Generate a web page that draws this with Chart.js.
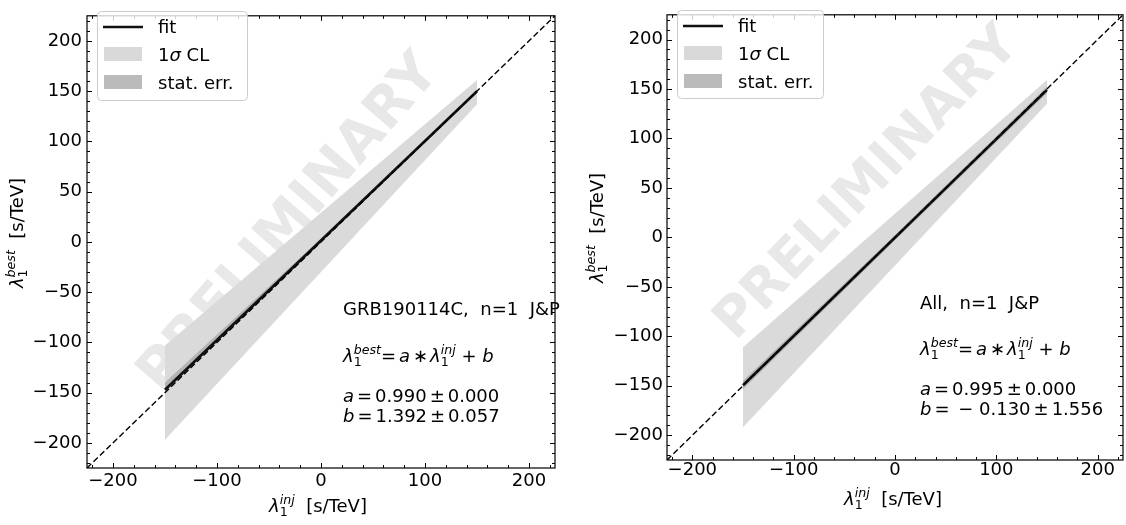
<!DOCTYPE html>
<html>
<head>
<meta charset="utf-8">
<script src="https://cdn.jsdelivr.net/npm/chart.js@4.4.1/dist/chart.umd.min.js"></script>
<style>
  body { margin: 0; background: #fff; }
  #wrap { position: relative; width: 1126px; height: 525px; }
  .pane { position: absolute; top: 0; width: 563px; height: 525px; }
</style>
</head>
<body>
<div id="wrap">
  <div class="pane" style="left:0"><canvas id="left"></canvas></div>
  <div class="pane" style="left:563px"><canvas id="right"></canvas></div>
</div>
<script>
// ---- data ----
const diagX = [-225, 225];            // y = x reference line
const bandX = [-150, 150];            // injected range of the bands / fit
const statX = [-150, 0, 150];

// left: GRB190114C
const clUpperL = [-103, 161];
const clLowerL = [-197, 137];
const statUpperL = [-140, 3.5, 151.5];
const statLowerL = [-149, -0.5, 148.5];
const fitL = [-147.1, 149.9];

// right: All
const clUpperR = [-111, 159];
const clLowerR = [-192, 135];
const statUpperR = [-145, 2.5, 152.5];
const statLowerR = [-153.5, -3, 146];
const fitR = [-149.4, 149.1];

const axisMin = -225, axisMax = 225;
const xMajorStep = 100, xMinorStep = 20;
const yMajorStep = 50, yMinorStep = 10;

const FONT = '"DejaVu Sans"';
Chart.defaults.font.family = FONT;
Chart.defaults.color = '#000';

function pts(xs, ys) {
    return xs.map((x, i) => ({ x: x, y: ys[i] }));
}
function fmt(v) {
    return v < 0 ? '\u2212' + (-v) : String(v);
}

// draw a run of "math" text pieces, returns width
function rich(ctx, x, y, runs, size, draw) {
    let cx = x, keepX = null, keepEnd = 0;
    for (const r of runs) {
        const fs = size * (r.s || 1);
        ctx.font = (r.i ? 'italic ' : '') + fs + 'px ' + FONT;
        if (keepX !== null) cx = keepX;
        if (draw) ctx.fillText(r.t, cx, y + (r.dy || 0) * size);
        const end = cx + ctx.measureText(r.t).width + (r.pad || 0);
        if (r.keep) {
            keepX = cx; keepEnd = end;
        } else {
            cx = keepX !== null ? Math.max(end, keepEnd) : end;
            keepX = null;
        }
    }
    return cx - x;
}

const lamBest = [{ t: 'λ', i: 1 }, { t: '1', s: 0.7, dy: 0.22, keep: 1 }, { t: 'best', i: 1, s: 0.7, dy: -0.42 }];
const lamInj = [{ t: 'λ', i: 1 }, { t: '1', s: 0.7, dy: 0.22, keep: 1 }, { t: 'inj', i: 1, s: 0.7, dy: -0.42 }];

const panelPlugin = {
    id: 'panel',
    beforeDatasetsDraw(chart, args, o) {
        const ctx = chart.ctx;
        ctx.save();
        ctx.beginPath();
        const a = chart.chartArea;
        ctx.rect(a.left, a.top, a.right - a.left, a.bottom - a.top);
        ctx.clip();
        ctx.translate(o.mark.x, o.mark.y);
        ctx.rotate(-o.mark.angle * Math.PI / 180);
        ctx.font = 'bold ' + o.mark.size + 'px ' + FONT;
        ctx.fillStyle = '#e8e8e8';
        ctx.textAlign = 'center';
        ctx.textBaseline = 'middle';
        ctx.fillText('PRELIMINARY', 0, 0);
        ctx.restore();
    },
    afterDraw(chart, args, o) {
        const ctx = chart.ctx;
        const a = chart.chartArea;
        const xs = chart.scales.x, ys = chart.scales.y;
        ctx.save();
        // spines
        ctx.strokeStyle = '#000';
        ctx.lineWidth = 1.2;
        ctx.strokeRect(a.left, a.top, a.right - a.left, a.bottom - a.top);
        // inward ticks on all sides
        ctx.lineWidth = 1;
        ctx.beginPath();
        xs.ticks.forEach(t => {
            const px = Math.round(xs.getPixelForValue(t.value)) + 0.5;
            const len = t.value % xMajorStep === 0 ? 5 : 3;
            ctx.moveTo(px, a.bottom); ctx.lineTo(px, a.bottom - len);
            ctx.moveTo(px, a.top); ctx.lineTo(px, a.top + len);
        });
        ys.ticks.forEach(t => {
            const py = Math.round(ys.getPixelForValue(t.value)) + 0.5;
            const len = t.value % yMajorStep === 0 ? 5 : 3;
            ctx.moveTo(a.left, py); ctx.lineTo(a.left + len, py);
            ctx.moveTo(a.right, py); ctx.lineTo(a.right - len, py);
        });
        ctx.stroke();

        // legend
        const L = o.legend;
        ctx.fillStyle = 'rgba(255,255,255,0.8)';
        ctx.strokeStyle = '#cccccc';
        ctx.lineWidth = 1;
        ctx.beginPath();
        ctx.roundRect(L.x + 0.5, L.y + 0.5, L.w, L.h, 4);
        ctx.fill();
        ctx.stroke();
        ctx.strokeStyle = '#111';
        ctx.lineWidth = 2.6;
        ctx.beginPath();
        ctx.moveTo(L.x + 6, L.y + 16); ctx.lineTo(L.x + 46, L.y + 16);
        ctx.stroke();
        ctx.fillStyle = '#d9d9d9';
        ctx.fillRect(L.x + 7, L.y + 36, 38, 14);
        ctx.fillStyle = '#bbbbbb';
        ctx.fillRect(L.x + 7, L.y + 64, 38, 14);
        ctx.fillStyle = '#000';
        ctx.textBaseline = 'alphabetic';
        ctx.textAlign = 'left';
        rich(ctx, L.x + 61, L.y + 22, [{ t: 'fit' }], 18, true);
        rich(ctx, L.x + 61, L.y + 50, [{ t: '1' }, { t: 'σ', i: 1 }, { t: ' CL' }], 18, true);
        rich(ctx, L.x + 61, L.y + 78, [{ t: 'stat. err.' }], 18, true);

        // annotation
        const T = o.note;
        rich(ctx, T.x, T.y[0], [{ t: T.title }], 18, true);
        rich(ctx, T.x, T.y[1], lamBest.concat([{ t: '=', pad: 3 }, { t: 'a', i: 1, pad: 3 }, { t: '∗', pad: 2 }], lamInj,
            [{ t: ' + ' }, { t: 'b', i: 1 }]), 18, true);
        rich(ctx, T.x, T.y[2], [{ t: 'a', i: 1, pad: 3 }, { t: '=', pad: 3 }, { t: T.a, pad: 3 }, { t: '±', pad: 3 }, { t: T.aErr }], 18, true);
        rich(ctx, T.x, T.y[3], [{ t: 'b', i: 1, pad: 3 }, { t: '=', pad: 3 }, { t: T.b, pad: 3 }, { t: '±', pad: 3 }, { t: T.bErr }], 18, true);

        // axis titles
        const xt = lamInj.concat([{ t: '  [s/TeV]' }]);
        const wx = rich(ctx, 0, 0, xt, 18, false);
        rich(ctx, o.xTitle.x - wx / 2, o.xTitle.y, xt, 18, true);
        const yt = lamBest.concat([{ t: '  [s/TeV]' }]);
        const wy = rich(ctx, 0, 0, yt, 18, false);
        ctx.translate(o.yTitle.x, o.yTitle.y);
        ctx.rotate(-Math.PI / 2);
        rich(ctx, -wy / 2, 0, yt, 18, true);
        ctx.restore();
    }
};

function makeChart(id, d) {
    const ds = [
        { data: pts(diagX, diagX), borderColor: '#000', borderWidth: 1.4, borderDash: [6, 3], order: 0 },
        { data: pts(bandX, d.fit), borderColor: '#111', borderWidth: 2.6, order: 1 },
        { data: pts(statX, d.statU), borderColor: 'rgba(0,0,0,0)', borderWidth: 0, order: 2 },
        { data: pts(statX, d.statL), borderColor: 'rgba(0,0,0,0)', borderWidth: 0, fill: '-1', backgroundColor: '#b4b4b4', order: 2 },
        { data: pts(bandX, d.clU), borderColor: 'rgba(0,0,0,0)', borderWidth: 0, order: 3 },
        { data: pts(bandX, d.clL), borderColor: 'rgba(0,0,0,0)', borderWidth: 0, fill: '-1', backgroundColor: '#dadada', order: 3 }
    ];
    ds.forEach(s => { s.showLine = true; s.pointRadius = 0; s.tension = 0; });

    return new Chart(document.getElementById(id), {
        type: 'scatter',
        data: { datasets: ds },
        plugins: [panelPlugin],
        options: {
            responsive: true,
            maintainAspectRatio: false,
            animation: false,
            layout: { padding: d.pad },
            plugins: {
                legend: { display: false },
                tooltip: { enabled: false },
                panel: d.panel
            },
            scales: {
                x: {
                    type: 'linear', min: axisMin, max: axisMax,
                    grid: { display: false, drawTicks: false }, border: { display: false },
                    afterBuildTicks: s => {
                        const t = [];
                        for (let v = -220; v <= 220; v += xMinorStep) t.push({ value: v });
                        s.ticks = t;
                    },
                    afterFit: s => { s.height = d.xH; },
                    ticks: {
                        autoSkip: false, maxRotation: 0, padding: d.xPad,
                        font: { size: 18 }, color: '#000',
                        callback: v => v % xMajorStep === 0 ? fmt(v) : ''
                    }
                },
                y: {
                    type: 'linear', min: axisMin, max: axisMax,
                    grid: { display: false, drawTicks: false }, border: { display: false },
                    afterBuildTicks: s => {
                        const t = [];
                        for (let v = -220; v <= 220; v += yMinorStep) t.push({ value: v });
                        s.ticks = t;
                    },
                    afterFit: s => { s.width = d.yW; },
                    ticks: {
                        autoSkip: false, padding: d.yPad,
                        font: { size: 18 }, color: '#000',
                        callback: v => v % yMajorStep === 0 ? fmt(v) : ''
                    }
                }
            }
        }
    });
}

makeChart('left', {
    fit: fitL, statU: statUpperL, statL: statLowerL, clU: clUpperL, clL: clLowerL,
    pad: { left: 0, right: 8, top: 2, bottom: 0 }, xH: 57, yW: 87, xPad: 3, yPad: 5,
    panel: {
        mark: { x: 290, y: 224, angle: 49, size: 56 },
        legend: { x: 97, y: 11, w: 150, h: 89 },
        note: { x: 343, y: [315, 362, 402, 422], title: 'GRB190114C,  n=1  J&P',
                a: '0.990', aErr: '0.000', b: '1.392', bErr: '0.057' },
        xTitle: { x: 318, y: 512 },
        yTitle: { x: 23, y: 233 }
    }
});

makeChart('right', {
    fit: fitR, statU: statUpperR, statL: statLowerR, clU: clUpperR, clL: clLowerR,
    pad: { left: 0, right: 3, top: 1, bottom: 0 }, xH: 65, yW: 104, xPad: 0, yPad: 4,
    panel: {
        mark: { x: 305, y: 184, angle: 46, size: 54 },
        legend: { x: 114, y: 10, w: 146, h: 88 },
        note: { x: 357, y: [309, 355, 395, 415], title: 'All,  n=1  J&P',
                a: '0.995', aErr: '0.000', b: ' \u2212 0.130', bErr: '1.556' },
        xTitle: { x: 330, y: 505 },
        yTitle: { x: 40, y: 228 }
    }
});
</script>
</body>
</html>
